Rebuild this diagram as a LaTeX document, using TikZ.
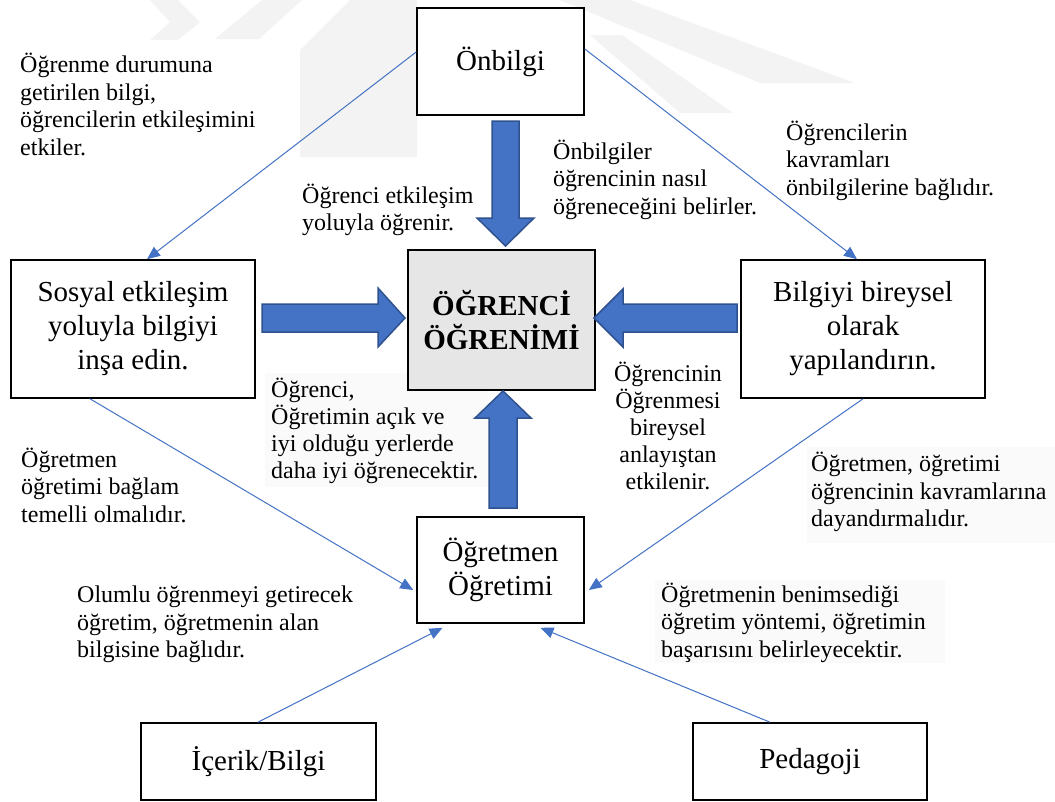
\documentclass[tikz,border=0pt]{standalone}
\usepackage{fontspec}
\setmainfont{Liberation Serif}
\usetikzlibrary{arrows.meta,calc}
\definecolor{arrowblue}{HTML}{4472C4}
\definecolor{arrowedge}{HTML}{2F528F}
\definecolor{centrefill}{HTML}{E7E6E6}
\definecolor{notefill}{HTML}{FAFAFA}
\definecolor{wmgray}{HTML}{F3F3F3}
\begin{document}
\begin{tikzpicture}[x=1pt,y=-1pt,
  conceptbox/.style={draw=black,line width=1.6pt,inner sep=0pt,align=center,
    font=\fontsize{29}{34}\selectfont},
  % notes are placed by the baseline of their last line
  note/.style={inner sep=0pt,align=left,anchor=base west,
    font=\fontsize{24}{27.5}\selectfont},
  centrenote/.style={note,align=center,anchor=base},
  link/.style={draw=arrowblue,line width=1pt,-{Triangle[length=13pt,width=11pt]}},
  blockarrow/.style={fill=arrowblue,draw=arrowedge,line width=1.5pt,line join=miter},
  wmshape/.style={fill=wmgray,draw=none}]
\useasboundingbox (0,0) rectangle (1055,801);
\fill[white] (0,0) rectangle (1055,801);

% faint background emblem
\fill[wmshape] (150,0) -- (178,0) -- (200,22) -- (178,40) -- (150,40) -- (170,22) -- cycle;
\fill[wmshape] (262,0) -- (302,0) -- (259,39) -- (215,39) -- cycle;
\fill[wmshape] (300,157) -- (300,50) -- (350,0) -- (417,0) -- (417,157) -- cycle;
\fill[wmshape] (560,0) -- (630,0) -- (855,83) -- (760,83) -- cycle;
\fill[wmshape] (590,35) -- (622,35) -- (733,113) -- (680,113) -- cycle;

% faint panels behind some notes
\fill[notefill] (265,373) rectangle (488,487);
\fill[notefill] (807,447) rectangle (1055,543);
\fill[notefill] (655,580) rectangle (945,663);

% concept boxes
\node[conceptbox,fill=white,minimum width=167pt,minimum height=107pt] (onb) at (500.5,61.5) {Önbilgi};
\node[conceptbox,fill=white,minimum width=244pt,minimum height=138pt] (soc) at (133,329)
  {Sosyal etkileşim\\yoluyla bilgiyi\\inşa edin.};
\node[conceptbox,fill=centrefill,minimum width=187pt,minimum height=140pt,font=\fontsize{29}{34}\selectfont\bfseries] (ctr) at (501.5,320)
  {ÖĞRENCİ\\ÖĞRENİMİ};
\node[conceptbox,fill=white,minimum width=244pt,minimum height=138pt] (bil) at (863,329)
  {Bilgiyi bireysel\\olarak\\yapılandırın.};
\node[conceptbox,fill=white,minimum width=167pt,minimum height=106pt] (ogr) at (500.5,570)
  {Öğretmen\\Öğretimi};
\node[conceptbox,fill=white,minimum width=235pt,minimum height=77pt] (ice) at (258.5,761.5) {İçerik/Bilgi};
\node[conceptbox,fill=white,minimum width=234pt,minimum height=77pt] (ped) at (810,761.5) {Pedagoji};

% block arrows into the centre box
\draw[blockarrow] (492,121) -- (519,121) -- (519,218) -- (534,218) -- (505.5,246)
  -- (477,218) -- (492,218) -- cycle;
\draw[blockarrow] (489,508) -- (517,508) -- (517,418) -- (531,418) -- (503,391)
  -- (475,418) -- (489,418) -- cycle;
\draw[blockarrow] (262,304) -- (378,304) -- (378,288) -- (405,318) -- (378,347)
  -- (378,332) -- (262,332) -- cycle;
\draw[blockarrow] (737,304) -- (623,304) -- (623,289) -- (594,318) -- (623,347)
  -- (623,332) -- (737,332) -- cycle;

% thin links
\draw[link] ([yshift=9.5pt]onb.west) -- ([xshift=14pt]soc.north);
\draw[link] ([yshift=12.5pt]onb.east) -- ([xshift=-6pt]bil.north);
\draw[link] ([xshift=-43pt]soc.south) -- ([xshift=-3pt,yshift=-20pt]ogr.west);
\draw[link] (bil.south) -- ([xshift=4pt,yshift=-20pt]ogr.east);
\draw[link] ([xshift=-0.5pt]ice.north) -- ([xshift=-58pt,yshift=-4pt]ogr.south);
\draw[link] ([xshift=-40pt]ped.north) -- ([xshift=40pt,yshift=-4pt]ogr.south);

% notes
\node[note] (n1) at (20,155) {Öğrenme durumuna\\getirilen bilgi,\\öğrencilerin etkileşimini\\etkiler.};
\node[note] (n2) at (302,230.5) {Öğrenci etkileşim\\yoluyla öğrenir.};
\node[note] (n3) at (553,214) {Önbilgiler\\öğrencinin nasıl\\öğreneceğini belirler.};
\node[note] (n4) at (786,195) {Öğrencilerin\\kavramları\\önbilgilerine bağlıdır.};
\node[note,font=\fontsize{24}{26.7}\selectfont] (n5) at (271,478) {Öğrenci,\\Öğretimin açık ve\\iyi olduğu yerlerde\\daha iyi öğrenecektir.};
\node[centrenote,font=\fontsize{24}{27}\selectfont] (n6) at (668,489) {Öğrencinin\\Öğrenmesi\\bireysel\\anlayıştan\\etkilenir.};
\node[note] (n7) at (21,522) {Öğretmen\\öğretimi bağlam\\temelli olmalıdır.};
\node[note] (n8) at (811,526.5) {Öğretmen, öğretimi\\öğrencinin kavramlarına\\dayandırmalıdır.};
\node[note] (n9) at (77,657.5) {Olumlu öğrenmeyi getirecek\\öğretim, öğretmenin alan\\bilgisine bağlıdır.};
\node[note] (n10) at (661,657) {Öğretmenin benimsediği\\öğretim yöntemi, öğretimin\\başarısını belirleyecektir.};
\end{tikzpicture}
\end{document}
